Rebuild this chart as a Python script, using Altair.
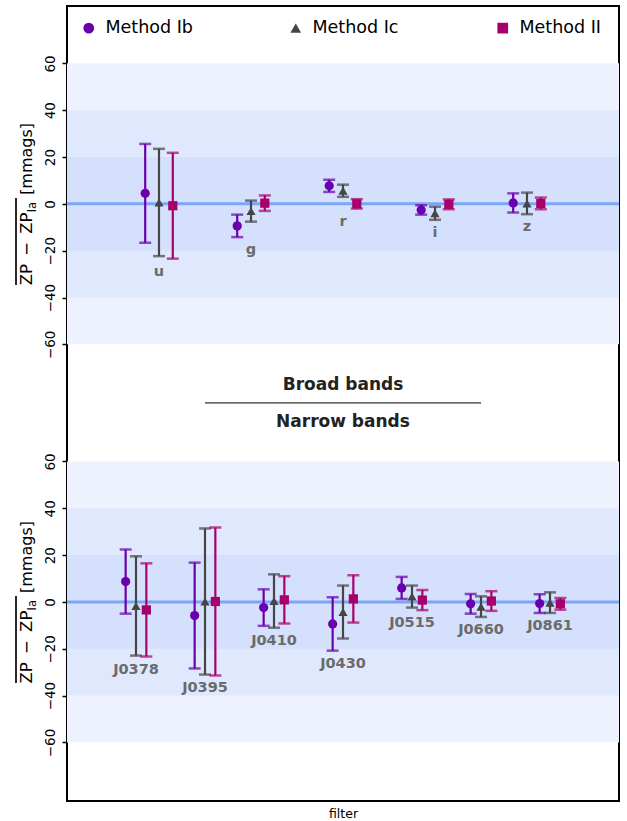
import altair as alt
import pandas as pd

# ---- data -------------------------------------------------------------
methods = ["Method Ib", "Method Ic", "Method II"]
method_colors = ["#6a00ad", "#454545", "#a8006b"]
method_shapes = ["circle", "triangle-up", "square"]

broad_filters = ["u", "g", "r", "i", "z"]
broad_ib_mean = [4.5, -9.4, 7.7, -2.6, 0.4]
broad_ib_err = [21.1, 4.8, 2.6, 2.0, 4.1]
broad_ic_mean = [0.6, -3.1, 5.6, -4.0, 0.2]
broad_ic_err = [22.9, 4.5, 2.6, 2.8, 4.6]
broad_ii_mean = [-0.8, 0.3, 0.0, -0.2, 0.2]
broad_ii_err = [22.6, 3.3, 2.0, 2.1, 2.5]

narrow_filters = ["J0378", "J0395", "J0410", "J0430", "J0515", "J0660", "J0861"]
narrow_ib_mean = [8.7, -5.8, -2.4, -9.4, 6.0, -0.8, -0.7]
narrow_ib_err = [13.7, 22.6, 7.8, 11.4, 4.7, 4.2, 4.0]
narrow_ic_mean = [-1.7, 0.2, 0.4, -4.3, 2.3, -2.0, -0.3]
narrow_ic_err = [21.2, 31.2, 11.4, 11.3, 4.7, 4.4, 4.4]
narrow_ii_mean = [-3.4, 0.2, 0.9, 1.3, 0.8, 0.4, -0.8]
narrow_ii_err = [19.9, 31.6, 10.1, 10.1, 4.3, 4.2, 2.5]

tick_labels = [-60, -40, -20, 0, 20, 40, 60]
band_halfwidths = [60, 40, 20]
band_colors = ["#eef2fe", "#e0e8fd", "#d4e0fc"]
section_titles = ["Broad bands", "Narrow bands"]

# both panels share one vertical axis; the broad-band panel sits higher
broad_shift = 170
narrow_shift = 0
divider = 85
spread = 0.15  # horizontal offset between methods within a filter group


def panel(filters, means, errs, shift):
    n = len(filters) + 1
    rows, labels = [], []
    for m_i, method in enumerate(methods):
        for f_i, f in enumerate(filters):
            mu, e = means[m_i][f_i], errs[m_i][f_i]
            rows.append(dict(filter=f, method=method,
                             x=(f_i + 1 + (m_i - 1) * spread) / n,
                             y=mu + shift, lo=mu - e + shift, hi=mu + e + shift))
    for f_i, f in enumerate(filters):
        low = min(means[m][f_i] - errs[m][f_i] for m in range(len(methods)))
        labels.append(dict(filter=f, x=(f_i + 1) / n, y=low + shift))
    return rows, labels


b_rows, b_labels = panel(broad_filters,
                         [broad_ib_mean, broad_ic_mean, broad_ii_mean],
                         [broad_ib_err, broad_ic_err, broad_ii_err], broad_shift)
n_rows, n_labels = panel(narrow_filters,
                         [narrow_ib_mean, narrow_ic_mean, narrow_ii_mean],
                         [narrow_ib_err, narrow_ic_err, narrow_ii_err], narrow_shift)
points = pd.DataFrame(b_rows + n_rows)
group_labels = pd.DataFrame(b_labels + n_labels)

bands = pd.DataFrame([dict(level=i, y=s - h, y2=s + h, x=0.0, x2=1.0)
                      for i, h in enumerate(band_halfwidths)
                      for s in (broad_shift, narrow_shift)])
zeros = pd.DataFrame(dict(y=[broad_shift, narrow_shift], x=[0.0, 0.0], x2=[1.0, 1.0]))
upper_title = pd.DataFrame(dict(text=[section_titles[0]], x=[0.5], y=[divider]))
lower_title = pd.DataFrame(dict(text=[section_titles[1]], x=[0.5], y=[divider]))
divider_df = pd.DataFrame(dict(x=[0.25], x2=[0.75], y=[divider]))
panel_zero = pd.DataFrame(dict(y=[broad_shift, narrow_shift]))

tick_values = [v + broad_shift for v in tick_labels] + [v + narrow_shift for v in tick_labels]

# ---- scales / encodings ----------------------------------------------
FONT = "DejaVu Sans"
xs = alt.Scale(domain=[0, 1], nice=False, zero=False)
ys = alt.Scale(domain=[-85, 254.5], nice=False, zero=False)

x_axis = alt.Axis(labels=False, ticks=False, domain=False, grid=False, title="filter",
                  titleFont=FONT, titleFontSize=12.5, titleFontWeight="normal",
                  titleColor="black", titlePadding=6)
y_axis = alt.Axis(values=tick_values,
                  labelExpr=f"format(datum.value > {divider} ? datum.value - {broad_shift} : datum.value, 'd')",
                  labelAngle=270, labelAlign="center", labelBaseline="alphabetic",
                  labelFont=FONT, labelFontSize=13.5, labelColor="black", labelPadding=8,
                  tickSize=5, tickWidth=1.5, tickColor="black", domain=False, grid=False,
                  title=None)

legend = alt.Legend(title=None, orient="none", legendX=13, legendY=13,
                    direction="horizontal", columns=3, gridAlign="all",
                    columnPadding=94, labelFont=FONT, labelFontSize=17.5,
                    labelColor="black", labelOffset=8, symbolSize=115,
                    symbolOpacity=1, symbolStrokeWidth=0, padding=0)
color = alt.Color("method:N", scale=alt.Scale(domain=methods, range=method_colors),
                  legend=legend)
shape = alt.Shape("method:N", scale=alt.Scale(domain=methods, range=method_shapes),
                  legend=legend)

X = alt.X("x:Q", scale=xs, axis=x_axis)
Y = alt.Y("y:Q", scale=ys, axis=y_axis)

# ---- layers -----------------------------------------------------------
band_layers = [
    alt.Chart(bands[bands.level == i]).mark_rect(color=c).encode(
        x=X, x2="x2:Q", y=Y, y2="y2:Q")
    for i, c in enumerate(band_colors)
]

zero_lines = alt.Chart(zeros).mark_rule(color="#7ba6f7", strokeWidth=3).encode(
    x=X, x2="x2:Q", y=Y)

bars = alt.Chart(points).mark_rule(strokeWidth=2.2).encode(
    x=X, y=alt.Y("lo:Q", scale=ys, axis=y_axis), y2="hi:Q", color=color)
caps_lo = alt.Chart(points).mark_tick(orient="horizontal", size=12, thickness=2.5).encode(
    x=X, y=alt.Y("lo:Q", scale=ys, axis=y_axis), color=color)
caps_hi = alt.Chart(points).mark_tick(orient="horizontal", size=12, thickness=2.5).encode(
    x=X, y=alt.Y("hi:Q", scale=ys, axis=y_axis), color=color)
markers = alt.Chart(points).mark_point(filled=True, opacity=1, size=85).encode(
    x=X, y=Y, color=color, shape=shape)

labels = alt.Chart(group_labels).mark_text(
    font=FONT, fontSize=14.5, fontWeight="bold", color="#6b6b6b",
    baseline="middle", dy=13).encode(x=X, y=Y, text="filter:N")

section_upper = alt.Chart(upper_title).mark_text(
    font=FONT, fontSize=17, fontWeight="bold", color="#222222",
    baseline="middle", dy=-18).encode(x=X, y=Y, text="text:N")
section_lower = alt.Chart(lower_title).mark_text(
    font=FONT, fontSize=17, fontWeight="bold", color="#222222",
    baseline="middle", dy=19).encode(x=X, y=Y, text="text:N")
divider_rule = alt.Chart(divider_df).mark_rule(color="black", strokeWidth=1).encode(
    x=X, x2="x2:Q", y=Y)

# y-axis title for each panel: overlined "ZP − ZP_Ia" followed by the unit
title_main = alt.Chart(panel_zero).mark_text(
    font=FONT, fontSize=16.5, angle=270, align="left", baseline="alphabetic",
    dx=-81.5, color="black").encode(x=alt.value(-35), y=Y, text=alt.value("ZP\u2002\u2212\u2002ZP"))
title_sub = alt.Chart(panel_zero).mark_text(
    font=FONT, fontSize=11.5, angle=270, align="left", baseline="alphabetic",
    dx=-8.5, dy=3.5, color="black").encode(x=alt.value(-35), y=Y, text=alt.value("Ia"))
title_unit = alt.Chart(panel_zero).mark_text(
    font=FONT, fontSize=16, angle=270, align="left", baseline="alphabetic",
    dx=9, color="black").encode(x=alt.value(-35), y=Y, text=alt.value("[mmags]"))
overlines = alt.layer(
    alt.Chart(panel_zero).mark_rule(color="black", strokeWidth=1.2).encode(
        x=alt.value(-51), y=alt.value(279), y2=alt.value(192)),
    alt.Chart(panel_zero).mark_rule(color="black", strokeWidth=1.2).encode(
        x=alt.value(-51), y=alt.value(677), y2=alt.value(590)),
)

chart = alt.layer(
    *band_layers, zero_lines, bars, caps_lo, caps_hi, markers, labels,
    section_upper, section_lower, divider_rule, title_main, title_sub, title_unit,
    overlines,
).properties(
    width=552, height=795,
    autosize=alt.AutoSizeParams(type="none"),
    padding={"left": 67, "top": 6, "right": 8, "bottom": 20},
    background="white",
).configure_view(stroke="black", strokeWidth=2)

chart.save("out.html", embed_options={"renderer": "svg", "actions": False})
